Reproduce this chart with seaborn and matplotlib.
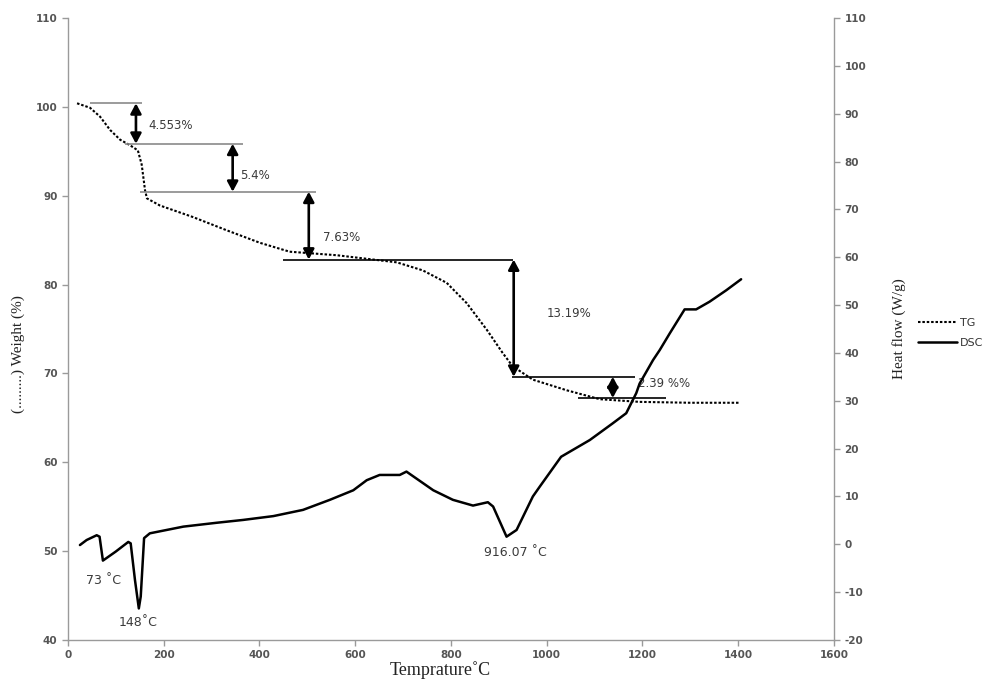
import matplotlib
matplotlib.use("Agg")
import matplotlib.pyplot as plt
from matplotlib.lines import Line2D
import seaborn as sns

# TG curve: temperature (°C) vs residual weight (%)
tg_temp = [19, 46, 67, 88, 109, 129, 146, 154, 161, 165, 192, 261, 332, 401, 463,
           562, 687, 741, 791, 833, 875, 908, 929, 971, 1042, 1111, 1194, 1300, 1403]
tg_weight = [100.4, 99.9, 98.9, 97.4, 96.3, 95.7, 95.1, 93.5, 90.6, 89.7, 88.9, 87.6, 86.1, 84.7, 83.7,
             83.3, 82.5, 81.6, 80.2, 77.9, 74.9, 72.3, 70.8, 69.3, 68.1, 67.1, 66.8, 66.7, 66.7]

# DSC curve: temperature (°C) vs heat flow (W/g)
dsc_temp = [25, 39, 60, 66, 73, 100, 126, 131, 140, 148, 152, 159, 171, 241, 310, 366, 429, 491,
            547, 596, 624, 651, 693, 707, 717, 763, 804, 846, 877, 888, 916.07, 937, 971, 985,
            1030, 1090, 1138, 1166, 1187, 1194, 1222, 1236, 1257, 1288, 1312, 1340, 1375, 1406]
dsc_heat = [-0.15, 0.9, 1.9, 1.6, -3.4, -1.5, 0.5, 0.2, -7.5, -13.4, -10.9, 1.3, 2.3, 3.7, 4.5, 5.1, 5.9, 7.2,
            9.3, 11.3, 13.4, 14.5, 14.5, 15.2, 14.5, 11.3, 9.3, 8.1, 8.8, 7.9, 1.6, 3.0, 10.0, 12.0,
            18.3, 21.8, 25.3, 27.4, 31.6, 33.6, 38.5, 40.6, 44.1, 49.1, 49.1, 50.7, 53.1, 55.4]

# Weight-loss steps
loss_start = 100.4
loss_steps = [4.553, 5.4, 7.63, 13.19, 2.39]
loss_labels = ["4.553%", "5.4%", "7.63%", "13.19%", "2.39 %%"]
arrow_temp = [142, 344, 503, 931, 1138]
level_spans = [(46, 154), (119, 365), (150, 518), (450, 930), (927, 1184), (1065, 1250)]
label_pos = [(167, 97.85), (359, 92.3), (532, 85.35), (1000, 76.8), (1190, 68.9)]

# DSC peak annotations
peak_labels = ["73 \u02daC", "148\u02daC", "916.07 \u02daC"]
peak_pos = [(75, -7.5), (146, -16.4), (935, -1.8)]

x_ticks = list(range(0, 1601, 200))
left_ticks = list(range(40, 111, 10))
right_ticks = list(range(-20, 111, 10))

sns.set_style("ticks")
plt.rcParams["font.family"] = ["DejaVu Sans"]
plt.rcParams["axes.unicode_minus"] = False

fig = plt.figure(figsize=(9.85, 6.79), dpi=100)
ax = fig.add_axes([0.069, 0.0574, 0.7777, 0.9161])
ax2 = ax.twinx()

axis_grey = "#9a9a9a"
tick_grey = "#555555"

# TG (left axis)
sns.lineplot(x=tg_temp, y=tg_weight, ax=ax, color="black", lw=1.5,
             linestyle=(0, (1.2, 0.9)), sort=False)

# DSC (right axis)
sns.lineplot(x=dsc_temp, y=dsc_heat, ax=ax2, color="black", lw=1.8, sort=False)

# step levels and double-headed arrows
levels = [loss_start]
for s in loss_steps:
    levels.append(levels[-1] - s)
for i, (lv, (x0, x1)) in enumerate(zip(levels, level_spans)):
    ax.hlines(lv, x0, x1, color="#8a8a8a" if i < 3 else "black", lw=1.2)
for i, xa in enumerate(arrow_temp):
    ax.annotate("", xy=(xa, levels[i + 1]), xytext=(xa, levels[i]),
                arrowprops=dict(arrowstyle="<|-|>,head_length=0.6,head_width=0.32",
                                color="black", lw=1.9, shrinkA=0, shrinkB=0))
for txt, (xt, yt) in zip(loss_labels, label_pos):
    ax.text(xt, yt, txt, fontsize=8.5, color="#3a3a3a", ha="left", va="center")

for txt, (xt, yt) in zip(peak_labels, peak_pos):
    ax2.text(xt, yt, txt, fontsize=9, color="#3a3a3a", ha="center", va="center")

# axes limits and ticks
ax.set_xlim(0, 1600)
ax.set_ylim(40, 110)
ax2.set_ylim(-20, 110)
ax.set_xticks(x_ticks)
ax.set_yticks(left_ticks)
ax2.set_yticks(right_ticks)

for a in (ax, ax2):
    a.spines["top"].set_visible(False)
    for sp in ("left", "right", "bottom"):
        a.spines[sp].set_color(axis_grey)
        a.spines[sp].set_linewidth(1.0)
    a.tick_params(axis="both", colors=axis_grey, length=4, width=1.0,
                  labelcolor=tick_grey, labelsize=7.5)
    for lab in a.get_xticklabels() + a.get_yticklabels():
        lab.set_fontweight("bold")
ax.spines["right"].set_visible(False)
ax2.spines["left"].set_visible(False)
ax2.spines["bottom"].set_visible(False)

serif = ["Liberation Serif", "DejaVu Serif"]
ax.set_xlabel("Temprature\u02daC", fontsize=13, family=serif, color="#222222")
ax.xaxis.set_label_coords((440 - 68) / 766, -0.034)
ax.set_ylabel("(.........) Weight (%)", fontsize=11, family=serif, color="#222222")
ax.yaxis.set_label_coords(-0.056, 0.46)
ax2.set_ylabel("Heat flow (W/g)", fontsize=11, family=serif, color="#222222")
ax2.yaxis.set_label_coords(1.076, 0.5)

handles = [Line2D([], [], color="black", lw=1.5, linestyle=(0, (1.2, 0.9))),
           Line2D([], [], color="black", lw=1.8)]
fig.legend(handles, ["TG", "DSC"], loc="upper left", bbox_to_anchor=(918 / 985, 0.532),
           frameon=False, fontsize=8, handlelength=3.5, handletextpad=0.3,
           labelspacing=0.9, borderpad=0, borderaxespad=0,
           labelcolor="#333333")

fig.savefig("out.png", dpi=100)
